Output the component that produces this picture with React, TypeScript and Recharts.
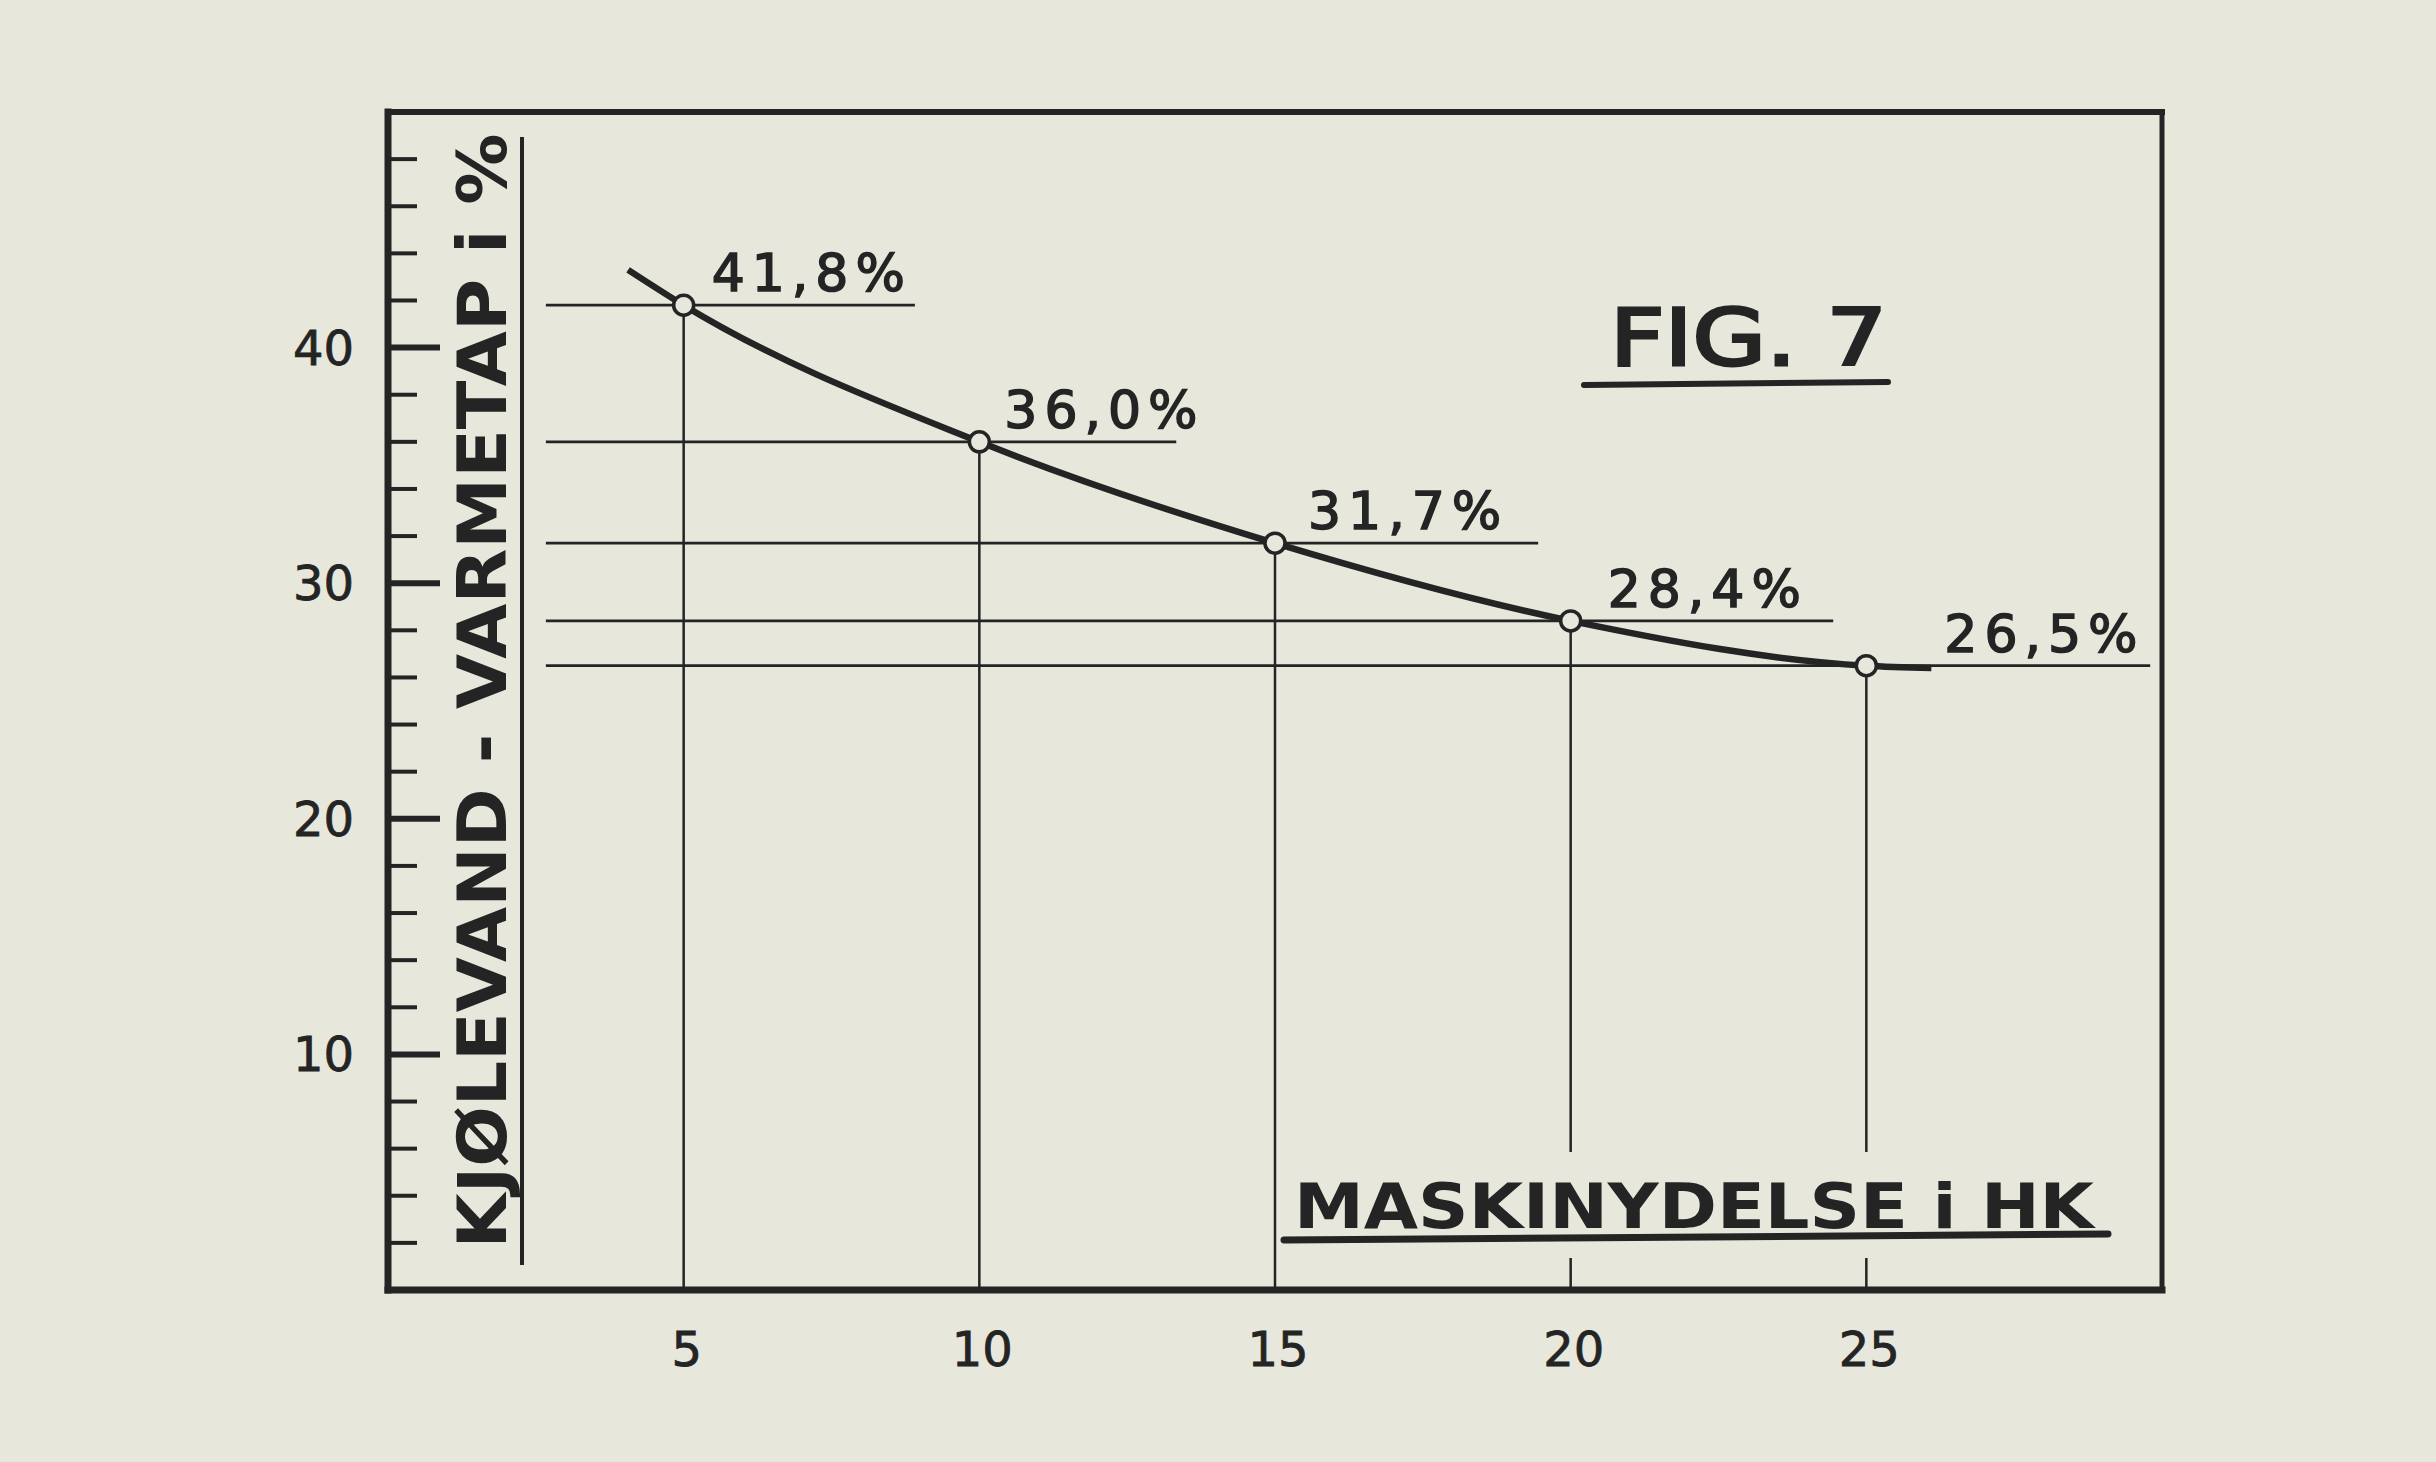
import React from 'react';
import {
  ComposedChart,
  Line,
  Scatter,
  XAxis,
  YAxis,
  ReferenceLine,
} from 'recharts';

// measured points: machine output (HK) and cooling-water heat loss (%)
const hk = [5, 10, 15, 20, 25];
const loss = [41.8, 36.0, 31.7, 28.4, 26.5];

// drawn curve runs a little past the first and last point
const curveHk = [4.06, 5, 10, 15, 20, 25, 26.1];
const curveLoss = [43.3, 41.8, 36.0, 31.7, 28.4, 26.5, 26.4];

const xTicks = [5, 10, 15, 20, 25];
const yTicks = [2, 4, 6, 8, 10, 12, 14, 16, 18, 20, 22, 24, 26, 28, 30, 32, 34, 36, 38, 40, 42, 44, 46, 48];
const yTickLabels = [10, 20, 30, 40];

const points = hk.map((h, i) => ({ hk: h, loss: loss[i] }));
const curve = curveHk.map((h, i) => ({ hk: h, loss: curveLoss[i] }));

// layout
const W = 2436;
const H = 1462;
const PAPER = '#e7e7dc';
const INK = '#242424';
const FONT = '"DejaVu Sans", sans-serif';
const LINE_START = 2.67; // where the horizontal leader lines begin (x units)
const UNDERLINE_EXT = [3.91, 3.33, 4.45, 4.44, 4.8]; // leader line length past point (x units)
const LABEL_DX = [28, 25, 33, 37, 78]; // px from point to label start

const fmt = (v: number) => v.toFixed(1).replace('.', ',') + '%';

const YTick = (props: any) => {
  const { x, y, payload } = props;
  const v = payload.value;
  const major = yTickLabels.includes(v);
  return (
    <g>
      <line
        x1={x}
        x2={x + (major ? 52 : 29)}
        y1={y}
        y2={y}
        stroke={INK}
        strokeWidth={major ? 6 : 4}
      />
      {major && (
        <text
          x={x - 34}
          y={y + 17}
          textAnchor="end"
          fontFamily={FONT}
          fontSize={48}
          fill={INK}
          stroke={INK}
          strokeWidth={0.8}
        >
          {v}
        </text>
      )}
    </g>
  );
};

const XTick = (props: any) => {
  const { x, y, payload } = props;
  return (
    <text
      x={x + 3}
      y={y + 76}
      textAnchor="middle"
      fontFamily={FONT}
      fontSize={48}
      fill={INK}
      stroke={INK}
      strokeWidth={0.8}
    >
      {payload.value}
    </text>
  );
};

const PointShape = (props: any) => {
  const { cx, cy, payload } = props;
  const i = hk.indexOf(payload.hk);
  return (
    <g>
      <circle cx={cx} cy={cy} r={10} fill={PAPER} stroke={INK} strokeWidth={3.5} />
      <text
        x={cx + LABEL_DX[i]}
        y={cy - 14}
        fontFamily={FONT}
        fontSize={52}
        letterSpacing={7}
        fill={INK}
        stroke={INK}
        strokeWidth={1.6}
      >
        {fmt(payload.loss)}
      </text>
    </g>
  );
};

export default function App() {
  return (
    <div style={{ position: 'absolute', left: 0, top: 0, width: W, height: H, background: PAPER }}>
      <ComposedChart
        width={W}
        height={H}
        margin={{ top: 111, right: 273, bottom: 71, left: 288 }}
      >
        <XAxis
          dataKey="hk"
          type="number"
          domain={[0, 30]}
          ticks={xTicks}
          interval={0}
          height={101}
          tickSize={0}
          tickMargin={0}
          tickLine={false}
          tick={<XTick />}
          axisLine={{ stroke: INK, strokeWidth: 7, strokeLinecap: 'square' }}
        />
        <XAxis
          xAxisId="top"
          orientation="top"
          type="number"
          domain={[0, 30]}
          height={1}
          tick={false}
          tickLine={false}
          axisLine={{ stroke: INK, strokeWidth: 6, strokeLinecap: 'square' }}
        />
        <YAxis
          type="number"
          domain={[0, 50]}
          ticks={yTicks}
          interval={0}
          width={100}
          tickSize={0}
          tickMargin={0}
          tickLine={false}
          tick={<YTick />}
          axisLine={{ stroke: INK, strokeWidth: 7, strokeLinecap: 'square' }}
        />
        <YAxis
          yAxisId="right"
          orientation="right"
          type="number"
          domain={[0, 50]}
          width={1}
          tick={false}
          tickLine={false}
          axisLine={{ stroke: INK, strokeWidth: 5, strokeLinecap: 'square' }}
        />

        {points.map((p, i) => (
          <ReferenceLine
            key={`h${p.hk}`}
            segment={[
              { x: LINE_START, y: p.loss },
              { x: p.hk + UNDERLINE_EXT[i], y: p.loss },
            ]}
            stroke={INK}
            strokeWidth={2.8}
            ifOverflow="visible"
          />
        ))}
        {points.map((p) => (
          <ReferenceLine
            key={`v${p.hk}`}
            segment={[
              { x: p.hk, y: p.loss },
              { x: p.hk, y: 0 },
            ]}
            stroke={INK}
            strokeWidth={2.5}
            ifOverflow="visible"
          />
        ))}

        <Line
          data={curve}
          dataKey="loss"
          type="monotone"
          stroke={INK}
          strokeWidth={6.5}
          dot={false}
          activeDot={false}
          isAnimationActive={false}
        />
        <Scatter
          data={points}
          dataKey="loss"
          shape={<PointShape />}
          isAnimationActive={false}
        />
      </ComposedChart>

      <svg
        width={W}
        height={H}
        style={{ position: 'absolute', left: 0, top: 0, pointerEvents: 'none' }}
      >
        {/* y-axis title with its rule */}
        <text
          transform="translate(482 691) rotate(-90)"
          textAnchor="middle"
          dominantBaseline="central"
          fontFamily={FONT}
          fontWeight="bold"
          fontSize={68}
          textLength={1115}
          lengthAdjust="spacingAndGlyphs"
          fill={INK}
        >
          KJØLEVAND - VARMETAP i %
        </text>
        <line x1={522} x2={522} y1={137} y2={1265} stroke={INK} strokeWidth={4} />

        {/* x-axis title, breaks the drop lines behind it */}
        <rect x={1282} y={1152} width={832} height={106} fill={PAPER} />
        <text
          x={1294}
          y={1228}
          fontFamily={FONT}
          fontWeight="bold"
          fontSize={62}
          textLength={800}
          lengthAdjust="spacingAndGlyphs"
          fill={INK}
        >
          MASKINYDELSE i HK
        </text>
        <line x1={1284} x2={2108} y1={1240} y2={1234} stroke={INK} strokeWidth={7} strokeLinecap="round" />

        {/* figure number */}
        <text
          x={1610}
          y={365}
          fontFamily={FONT}
          fontSize={78}
          textLength={277}
          lengthAdjust="spacingAndGlyphs"
          fill={INK}
          stroke={INK}
          strokeWidth={3}
        >
          FIG. 7
        </text>
        <line x1={1584} x2={1888} y1={385} y2={382} stroke={INK} strokeWidth={6} strokeLinecap="round" />
      </svg>
    </div>
  );
}
